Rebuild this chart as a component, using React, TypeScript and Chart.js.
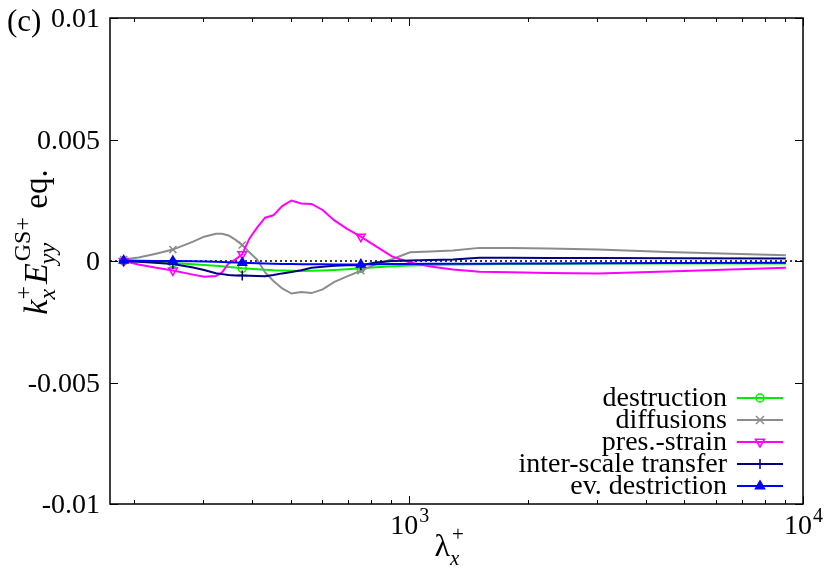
import React, { useEffect, useRef } from "react";
import { Chart, registerables } from "chart.js";

Chart.register(...registerables);

// wavelengths lambda_x^+
const lambdaX = [
  188.5, 205.6, 226.2, 251.3, 282.8, 301.6, 323.1, 335.1, 348.0, 361.9, 377.0,
  393.4, 411.3, 430.9, 452.4, 476.2, 502.7, 532.2, 565.5, 603.2, 646.3, 696.0,
  754.0, 822.5, 904.8, 1005.3, 1131.0, 1292.6, 1508.0, 1809.6, 2262.0, 3016.0,
  4524.0, 9048.0,
];

const destruction = [
  0, -0.00002, -0.00005, -0.00008, -0.00013, -0.00016, -0.0002, -0.00022,
  -0.00025, -0.00027, -0.0003, -0.00032, -0.00034, -0.00036, -0.00038,
  -0.00039, -0.0004, -0.00041, -0.0004, -0.00039, -0.00037, -0.00034, -0.0003,
  -0.00026, -0.00022, -0.00019, -0.00016, -0.00014, -0.00013, -0.00012,
  -0.00011, -0.0001, -0.0001, -0.0001,
];

const diffusions = [
  0.00006, 0.00014, 0.00029, 0.00047, 0.0008, 0.001, 0.00112, 0.00112, 0.00105,
  0.00088, 0.00066, 0.00035, 0.00006, -0.00047, -0.00082, -0.00113, -0.00134,
  -0.00128, -0.00132, -0.00117, -0.00086, -0.00063, -0.0004, -0.00014, 0.00007,
  0.00036, 0.00039, 0.00043, 0.00054, 0.00053, 0.00051, 0.00047, 0.00037,
  0.00024,
];

const presStrain = [
  0, -0.00014, -0.00027, -0.00039, -0.00056, -0.00065, -0.00062, -0.00047,
  -0.0001, 0.00006, 0.00028, 0.00093, 0.00137, 0.00178, 0.00188, 0.00226,
  0.00249, 0.00237, 0.00235, 0.0021, 0.00167, 0.00132, 0.001, 0.00061, 0.00019,
  -0.00006, -0.00023, -0.00035, -0.00044, -0.00046, -0.00049, -0.00051,
  -0.00043, -0.00028,
];

const interScale = [
  0, -0.00003, -0.00007, -0.00012, -0.00027, -0.00037, -0.0005, -0.00054,
  -0.00058, -0.0006, -0.0006, -0.00061, -0.00062, -0.00063, -0.00058, -0.00051,
  -0.00045, -0.00038, -0.00028, -0.00024, -0.0002, -0.00018, -0.00017,
  -0.00006, 0, 0.00002, 0.00004, 0.00006, 0.00013, 0.00013, 0.00012, 0.00012,
  0.00011, 0.0001,
];

const evDestriction = [
  0.00002, 0.00001, 0, 0, -0.00001, -0.00002, -0.00003, -0.00004, -0.00005,
  -0.00006, -0.00007, -0.00008, -0.00009, -0.0001, -0.00011, -0.00012,
  -0.00012, -0.00013, -0.00013, -0.00013, -0.00014, -0.00014, -0.00014,
  -0.00013, -0.00012, -0.00012, -0.00011, -0.00011, -0.00011, -0.0001,
  -0.0001, -0.00009, -0.00008, -0.00007,
];

const markerLambdas = [188.5, 251.3, 377.0, 754.0];

const seriesNames = [
  "destruction",
  "diffusions",
  "pres.-strain",
  "inter-scale transfer",
  "ev. destriction",
];

const yTicks = [-0.01, -0.005, 0, 0.005, 0.01];
const yTickLabels = ["-0.01", "-0.005", "0", "0.005", "0.01"];
const xMajorTicks = [1000, 10000];
const xMajorExp = ["3", "4"];
const xMinorTicks = [200, 300, 400, 500, 600, 700, 800, 900, 2000, 3000, 4000, 5000, 6000, 7000, 8000, 9000];

const SERIF = '"Liberation Serif", "Times New Roman", serif';

type Sty = {
  color: string;
  pointStyle: string;
  rotation: number;
  radius: number;
  filled: boolean;
};

const styles: Sty[] = [
  { color: "#00ee00", pointStyle: "circle", rotation: 0, radius: 4, filled: false },
  { color: "#8c8c8c", pointStyle: "crossRot", rotation: 0, radius: 5, filled: false },
  { color: "#ff00ff", pointStyle: "triangle", rotation: 180, radius: 5, filled: false },
  { color: "#000080", pointStyle: "cross", rotation: 0, radius: 5, filled: false },
  { color: "#0000ff", pointStyle: "triangle", rotation: 0, radius: 5, filled: true },
];

function drawMarker(ctx: CanvasRenderingContext2D, s: Sty, x: number, y: number) {
  ctx.save();
  ctx.strokeStyle = s.color;
  ctx.fillStyle = s.color;
  ctx.lineWidth = 1.5;
  const r = s.radius;
  ctx.beginPath();
  if (s.pointStyle === "circle") {
    ctx.arc(x, y, r, 0, Math.PI * 2);
    ctx.stroke();
  } else if (s.pointStyle === "crossRot") {
    const d = r * 0.8;
    ctx.moveTo(x - d, y - d);
    ctx.lineTo(x + d, y + d);
    ctx.moveTo(x - d, y + d);
    ctx.lineTo(x + d, y - d);
    ctx.stroke();
  } else if (s.pointStyle === "cross") {
    ctx.moveTo(x - r, y);
    ctx.lineTo(x + r, y);
    ctx.moveTo(x, y - r);
    ctx.lineTo(x, y + r);
    ctx.stroke();
  } else if (s.pointStyle === "triangle") {
    const sgn = s.rotation === 180 ? -1 : 1;
    ctx.moveTo(x, y - sgn * r);
    ctx.lineTo(x + r * 0.9, y + sgn * r * 0.55);
    ctx.lineTo(x - r * 0.9, y + sgn * r * 0.55);
    ctx.closePath();
    if (s.filled) ctx.fill();
    ctx.stroke();
  }
  ctx.restore();
}

const decorPlugin = {
  id: "decor",
  beforeDatasetsDraw(chart: any) {
    const { ctx, chartArea: a, scales } = chart;
    const y0 = scales.y.getPixelForValue(0);
    ctx.save();
    ctx.strokeStyle = "#000";
    ctx.lineWidth = 1.5;
    ctx.setLineDash([2, 3]);
    ctx.beginPath();
    ctx.moveTo(a.left, y0);
    ctx.lineTo(a.right, y0);
    ctx.stroke();
    ctx.restore();
  },
  afterDraw(chart: any) {
    const { ctx, chartArea: a, scales } = chart;
    const xs = scales.x;
    const ys = scales.y;
    ctx.save();
    // frame
    ctx.strokeStyle = "#000";
    ctx.lineWidth = 1.5;
    ctx.setLineDash([]);
    ctx.strokeRect(a.left, a.top, a.right - a.left, a.bottom - a.top);

    // ticks
    ctx.lineWidth = 1;
    ctx.beginPath();
    yTicks.forEach((v) => {
      const py = Math.round(ys.getPixelForValue(v)) + 0.5;
      ctx.moveTo(a.left, py);
      ctx.lineTo(a.left + 8, py);
      ctx.moveTo(a.right, py);
      ctx.lineTo(a.right - 8, py);
    });
    xMajorTicks.forEach((v) => {
      const px = Math.round(xs.getPixelForValue(v)) + 0.5;
      ctx.moveTo(px, a.bottom);
      ctx.lineTo(px, a.bottom - 8);
      ctx.moveTo(px, a.top);
      ctx.lineTo(px, a.top + 8);
    });
    xMinorTicks.forEach((v) => {
      const px = Math.round(xs.getPixelForValue(v)) + 0.5;
      ctx.moveTo(px, a.bottom);
      ctx.lineTo(px, a.bottom - 4);
      ctx.moveTo(px, a.top);
      ctx.lineTo(px, a.top + 4);
    });
    ctx.stroke();

    // y tick labels
    ctx.fillStyle = "#000";
    ctx.font = `28px ${SERIF}`;
    ctx.textAlign = "right";
    ctx.textBaseline = "middle";
    yTicks.forEach((v, i) => {
      ctx.fillText(yTickLabels[i], a.left - 10, ys.getPixelForValue(v) + 2);
    });

    // x tick labels 10^n
    ctx.textAlign = "left";
    ctx.textBaseline = "alphabetic";
    xMajorTicks.forEach((v, i) => {
      const px = xs.getPixelForValue(v);
      ctx.font = `28px ${SERIF}`;
      const w1 = ctx.measureText("10").width;
      ctx.font = `20px ${SERIF}`;
      const w2 = ctx.measureText(xMajorExp[i]).width;
      const start = px - (w1 + w2) / 2;
      ctx.font = `28px ${SERIF}`;
      ctx.fillText("10", start, a.bottom + 30);
      ctx.font = `20px ${SERIF}`;
      ctx.fillText(xMajorExp[i], start + w1 + 1, a.bottom + 18);
    });

    // x label lambda_x^+
    const cx = (a.left + a.right) / 2;
    ctx.font = `32px ${SERIF}`;
    const wl = ctx.measureText("λ").width;
    const lx = cx - 22;
    ctx.fillText("λ", lx, a.bottom + 52);
    ctx.font = `21px ${SERIF}`;
    ctx.fillText("+", lx + wl + 2, a.bottom + 37);
    ctx.font = `italic 21px ${SERIF}`;
    ctx.fillText("x", lx + wl, a.bottom + 61);

    // (c)
    ctx.font = `31px ${SERIF}`;
    ctx.fillText("(c)", 7, 31);

    // y label, rotated
    ctx.save();
    const big = `italic 34px ${SERIF}`;
    const bigUp = `33px ${SERIF}`;
    const small = `24px ${SERIF}`;
    const smallIt = `italic 24px ${SERIF}`;
    ctx.font = big;
    const wk = ctx.measureText("k").width;
    const wE = ctx.measureText("E").width;
    ctx.font = small;
    const wPlus = ctx.measureText("+").width;
    const wGS = ctx.measureText("GS+").width;
    ctx.font = smallIt;
    const wx = ctx.measureText("x").width;
    const wyy = ctx.measureText("yy").width;
    ctx.font = bigUp;
    const weq = ctx.measureText(" eq.").width;
    const total = wk + Math.max(wPlus, wx) + 2 + wE + 2 + Math.max(wGS, wyy) + weq;
    const cy = 242;
    ctx.translate(47, cy);
    ctx.rotate(-Math.PI / 2);
    let p = -total / 2;
    ctx.font = big;
    ctx.fillText("k", p, 0);
    p += wk;
    ctx.font = small;
    ctx.fillText("+", p, -16);
    ctx.font = smallIt;
    ctx.fillText("x", p, 8);
    p += Math.max(wPlus, wx) + 2;
    ctx.font = big;
    ctx.fillText("E", p, 0);
    p += wE + 2;
    ctx.font = small;
    ctx.fillText("GS+", p, -17);
    ctx.font = smallIt;
    ctx.fillText("yy", p - 3, 8);
    p += Math.max(wGS, wyy);
    ctx.font = bigUp;
    ctx.fillText(" eq.", p, 0);
    ctx.restore();

    // legend
    const rows = [398, 420, 442, 464, 486];
    ctx.font = `28px ${SERIF}`;
    ctx.textAlign = "right";
    ctx.textBaseline = "alphabetic";
    seriesNames.forEach((name, i) => {
      const ry = rows[i];
      ctx.fillStyle = "#000";
      ctx.fillText(name, 727, ry + 8);
      ctx.strokeStyle = styles[i].color;
      ctx.lineWidth = 2;
      ctx.beginPath();
      ctx.moveTo(737, ry);
      ctx.lineTo(783, ry);
      ctx.stroke();
      drawMarker(ctx, styles[i], 760, ry);
    });
    ctx.restore();
  },
};

const seriesData = [destruction, diffusions, presStrain, interScale, evDestriction];

export default function App() {
  const ref = useRef<HTMLCanvasElement | null>(null);
  useEffect(() => {
    if (!ref.current) return;
    const datasets = seriesData.map((vals, i) => {
      const s = styles[i];
      return {
        label: seriesNames[i],
        data: lambdaX.map((x, j) => ({ x, y: vals[j] })),
        borderColor: s.color,
        backgroundColor: s.filled ? s.color : "rgba(0,0,0,0)",
        borderWidth: 2,
        pointStyle: s.pointStyle,
        pointRotation: s.rotation,
        pointBorderWidth: 1.5,
        pointBorderColor: s.color,
        pointBackgroundColor: s.filled ? s.color : "rgba(0,0,0,0)",
        pointRadius: lambdaX.map((x) => (markerLambdas.includes(x) ? s.radius : 0)),
        tension: 0,
        fill: false,
        order: 5 - i,
      };
    });
    const chart = new Chart(ref.current, {
      type: "line",
      data: { datasets } as any,
      options: {
        animation: false,
        responsive: false,
        maintainAspectRatio: false,
        events: [],
        layout: { padding: { left: 110, right: 27, top: 18, bottom: 68 } },
        plugins: { legend: { display: false }, tooltip: { enabled: false } },
        scales: {
          x: { type: "logarithmic", min: 174, max: 10000, display: false },
          y: { type: "linear", min: -0.01, max: 0.01, display: false },
        },
      } as any,
      plugins: [decorPlugin],
    });
    return () => chart.destroy();
  }, []);
  return (
    <div style={{ position: "absolute", left: 0, top: 0, width: 830, height: 572, background: "#fff" }}>
      <canvas ref={ref} width={830} height={572} style={{ width: 830, height: 572 }} />
    </div>
  );
}
